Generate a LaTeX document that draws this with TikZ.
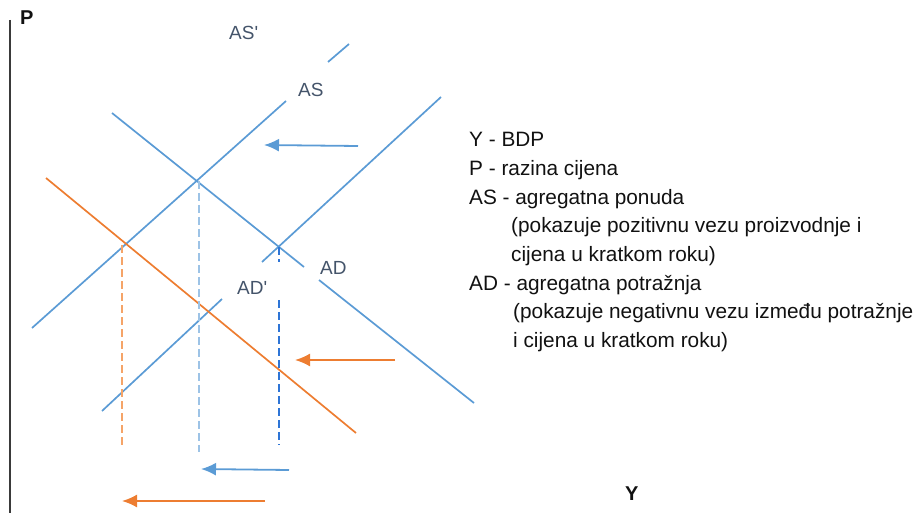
\documentclass[tikz,border=0pt]{standalone}
\usepackage{fontspec}
\setmainfont{Liberation Sans}
\usetikzlibrary{arrows.meta}
\definecolor{asblue}{HTML}{5B9BD5}
\definecolor{adorange}{HTML}{ED7D31}
\definecolor{labgray}{HTML}{44546A}
\definecolor{axisgray}{HTML}{3A3A3A}
\definecolor{txtblack}{HTML}{111111}
\definecolor{dashorange}{HTML}{F5A468}
\definecolor{dashlight}{HTML}{9DC3E6}
\definecolor{dashblue}{HTML}{2E75D6}
\begin{document}
\begin{tikzpicture}[x=1pt,y=-1pt,
    curve/.style={line width=1.7pt},
    guide/.style={dash pattern=on 8pt off 4pt, line width=1.7pt},
    shiftarr/.style={-{Latex[length=15pt,width=13pt]}, line width=1.8pt},
    lbl/.style={anchor=base west, inner sep=0pt, text=labgray,
      font=\fontsize{19}{19}\selectfont},
    legend/.style={anchor=base west, inner sep=0pt, text=txtblack,
      font=\fontsize{20.8}{24}\selectfont},
    axlbl/.style={anchor=base west, inner sep=0pt, text=txtblack,
      font=\bfseries\fontsize{20}{20}\selectfont}]
    \useasboundingbox (0,0) rectangle (918,513);
    % axis
    \coordinate (Ptop) at (10,20);
    \coordinate (Pbot) at (10,513);
    \draw[axisgray, line width=2pt] (Ptop) -- (Pbot);
    \node[axlbl] (P) at (20,25) {P};
    \node[axlbl] (Y) at (625,500) {Y};
    % curves
    \coordinate (ASp0) at (32,328);
    \coordinate (ASp1) at (286,101);
    \coordinate (ASp2) at (328,62);
    \coordinate (ASp3) at (349,44);
    \coordinate (AS0) at (441,97);
    \coordinate (AS1) at (262,262);
    \coordinate (AS2) at (222,299);
    \coordinate (AS3) at (102,411);
    \coordinate (AD0) at (112,113);
    \coordinate (AD1) at (304,267);
    \coordinate (AD2) at (319,280);
    \coordinate (AD3) at (474,403);
    \coordinate (ADp0) at (46,178);
    \coordinate (ADp1) at (356,433);
    \path (ASp0) edge [curve, asblue] (ASp1);
    \path (ASp2) edge [curve, asblue] (ASp3);
    \path (AS0) edge [curve, asblue] (AS1);
    \path (AS2) edge [curve, asblue] (AS3);
    \path (AD0) edge [curve, asblue] (AD1);
    \path (AD2) edge [curve, asblue] (AD3);
    \path (ADp0) edge [curve, adorange] (ADp1);
    \node[lbl] (lASp) at (229,40) {AS\textquotesingle};
    \node[lbl] (lAS) at (298,97) {AS};
    \node[lbl] (lAD) at (320,274) {AD};
    \node[lbl] (lADp) at (237,294) {AD\textquotesingle};
    % equilibria and guides
    \coordinate (E0) at (279,247);
    \coordinate (E1) at (199,181);
    \coordinate (E3) at (122,245);
    \coordinate (G0a) at (279,262);
    \coordinate (G0b) at (279,300);
    \coordinate (G0) at (279,445);
    \coordinate (G1) at (199,452);
    \coordinate (G3) at (122,447);
    \path (E3) edge [guide, dashorange] (G3);
    \path (E1) edge [guide, dashlight] (G1);
    \path (E0) edge [guide, dashblue] (G0a);
    \path (G0b) edge [guide, dashblue] (G0);
    % shifts
    \coordinate (S0a) at (358,146);
    \coordinate (S0b) at (264,145);
    \coordinate (S1a) at (395,360);
    \coordinate (S1b) at (295,360);
    \coordinate (S2a) at (289,470);
    \coordinate (S2b) at (201,469);
    \coordinate (S3a) at (265,501);
    \coordinate (S3b) at (122,501);
    \path (S0a) edge [shiftarr, asblue] (S0b);
    \path (S1a) edge [shiftarr, adorange] (S1b);
    \path (S2a) edge [shiftarr, asblue] (S2b);
    \path (S3a) edge [shiftarr, adorange] (S3b);
    % legend
    \node[legend] (L0) at (469,147) {Y - BDP};
    \node[legend] (L1) at (469,175.6) {P - razina cijena};
    \node[legend] (L2) at (469,204.2) {AS - agregatna ponuda};
    \node[legend] (L3) at (511,232.8) {(pokazuje pozitivnu vezu proizvodnje i};
    \node[legend] (L4) at (511,261.4) {cijena u kratkom roku)};
    \node[legend] (L5) at (469,290) {AD - agregatna potražnja};
    \node[legend] (L6) at (513,318.6) {(pokazuje negativnu vezu između potražnje};
    \node[legend] (L7) at (513,347.2) {i cijena u kratkom roku)};
\end{tikzpicture}
\end{document}
